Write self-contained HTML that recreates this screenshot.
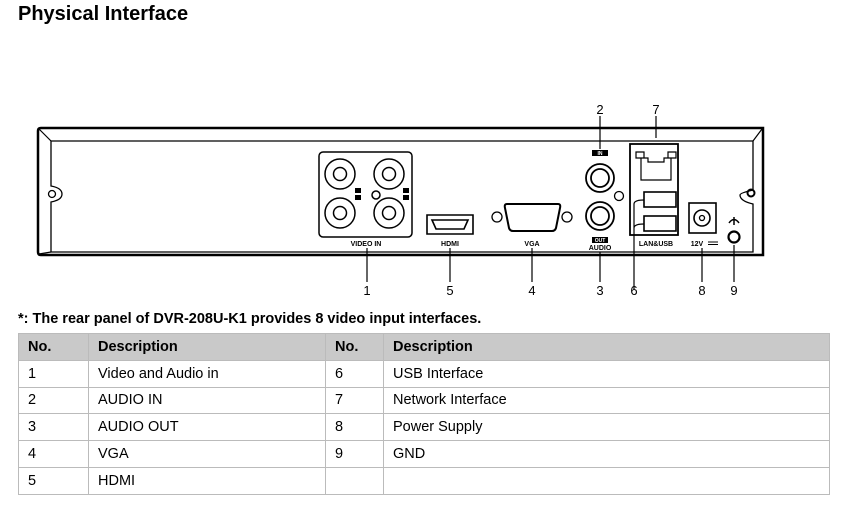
<!DOCTYPE html>
<html><head><meta charset="utf-8"><style>
body{margin:0;width:859px;height:505px;background:#fff;font-family:"Liberation Sans",sans-serif;position:relative;overflow:hidden}
.t{position:absolute;left:18px;top:3px;font-size:20px;font-weight:bold;color:#000}
.n{position:absolute;left:18px;top:311px;font-size:14.5px;font-weight:bold;color:#000}
table{position:absolute;left:18px;top:333px;border-collapse:collapse;font-size:14.5px;color:#000}
td{border:1px solid #bbb;height:26.8px;padding:0 0 0 9px;box-sizing:border-box}
tr.h td{background:#c9c9c9;font-weight:bold}
</style></head><body>
<div class="t">Physical Interface</div>
<svg width="859" height="310" style="position:absolute;left:0;top:0" font-family="Liberation Sans,sans-serif">
<g fill="none" stroke="#000">
<path d="M41 128 H763 V255 H41 Q38 255 38 252 V131 Q38 128 41 128Z" stroke-width="2.5"/>
<path d="M51 141 H753 V190 Q740 193 740 195 Q740 201 753 204 V252 H51 V202 Q62 200 62 194 Q62 188 51 186 Z" stroke-width="1.3"/>
<path d="M39 129 L51 141 M762 129 L753 141 M39 254 L51 252" stroke-width="1.2"/>
<circle cx="52" cy="194" r="3.5" stroke-width="1.3"/>
<circle cx="751" cy="193" r="3.5" stroke-width="2"/>
<rect x="319" y="152" width="93" height="85" rx="4" stroke-width="1.5"/>
<g stroke-width="1.5"><circle cx="340" cy="174" r="15"/><circle cx="340" cy="174" r="6.5"/><circle cx="389" cy="174" r="15"/><circle cx="389" cy="174" r="6.5"/><circle cx="340" cy="213" r="15"/><circle cx="340" cy="213" r="6.5"/><circle cx="389" cy="213" r="15"/><circle cx="389" cy="213" r="6.5"/><circle cx="376" cy="195" r="4"/></g>
<path d="M427 215 H473 V234 H427 Z M432 220 L436 229 H464 L468 220 Z" stroke-width="1.6"/>
<path d="M507 204 H558 Q561 204 560 208 L556 228 Q555 231 552 231 H513 Q510 231 509 228 L505 208 Q504 204 507 204Z" stroke-width="2"/>
<circle cx="497" cy="217" r="5" stroke-width="1.3"/><circle cx="567" cy="217" r="5" stroke-width="1.3"/>
<circle cx="600" cy="178" r="14" stroke-width="1.8"/><circle cx="600" cy="178" r="9" stroke-width="1.8"/>
<circle cx="600" cy="216" r="14" stroke-width="1.8"/><circle cx="600" cy="216" r="9" stroke-width="1.8"/>
<circle cx="619" cy="196" r="4.5" stroke-width="1.3"/>
<rect x="630" y="144" width="48" height="91" stroke-width="1.8"/>
<path d="M636 152 H644 V158 H636Z M668 152 H676 V158 H668Z M641 158 H648 V162 H664 V158 H671 V180 H641 Z" stroke-width="1.2"/>
<rect x="644" y="192" width="32" height="15" stroke-width="1.6"/><rect x="644" y="216" width="32" height="15" stroke-width="1.6"/>
<path d="M634 204 Q634 200 644 200 M634 228 Q634 224 644 224 M634 204 V290" stroke-width="1.2"/>
<rect x="689" y="203" width="27" height="30" stroke-width="1.6"/><circle cx="702" cy="218" r="8" stroke-width="1.6"/><circle cx="702" cy="218" r="2.5" stroke-width="1.3"/>
<circle cx="734" cy="237" r="5.5" stroke-width="2.2"/>
<path d="M729 223 Q734 216 739 223 M734 217 V225" stroke-width="1.5"/>
<g stroke-width="1.2"><path d="M367 248 V282 M450 248 V282 M532 248 V282 M600 252 V282 M702 248 V282 M734 245 V282 M600 116 V149 M656 116 V138"/></g>
</g>
<g fill="#000">
<rect x="592" y="150" width="16" height="6"/><rect x="592" y="237" width="16" height="6"/>
<rect x="355" y="188" width="6" height="5"/><rect x="355" y="195" width="6" height="5"/><rect x="403" y="188" width="6" height="5"/><rect x="403" y="195" width="6" height="5"/>
<g font-size="7" font-weight="bold" text-anchor="middle">
<text x="366" y="246">VIDEO IN</text><text x="450" y="246">HDMI</text><text x="532" y="246">VGA</text><text x="600" y="250">AUDIO</text><text x="656" y="246">LAN&amp;USB</text><text x="697" y="246">12V</text>
</g>
<g fill="#fff" font-size="5" font-weight="bold" text-anchor="middle"><text x="600" y="155">IN</text><text x="600" y="242">OUT</text></g>
<path d="M708 242 H718 M708 244.5 H718" stroke="#000" stroke-width="1"/>
<g font-size="13" text-anchor="middle">
<text x="367" y="295">1</text><text x="450" y="295">5</text><text x="532" y="295">4</text><text x="600" y="295">3</text><text x="634" y="295">6</text><text x="702" y="295">8</text><text x="734" y="295">9</text><text x="600" y="114">2</text><text x="656" y="114">7</text>
</g></g>
</svg>
<div class="n">*: The rear panel of DVR-208U-K1 provides 8 video input interfaces.</div>
<table>
<tr class="h"><td style="width:70px">No.</td><td style="width:237px">Description</td><td style="width:58px">No.</td><td style="width:446px">Description</td></tr>
<tr><td>1</td><td>Video and Audio in</td><td>6</td><td>USB Interface</td></tr>
<tr><td>2</td><td>AUDIO IN</td><td>7</td><td>Network Interface</td></tr>
<tr><td>3</td><td>AUDIO OUT</td><td>8</td><td>Power Supply</td></tr>
<tr><td>4</td><td>VGA</td><td>9</td><td>GND</td></tr>
<tr><td>5</td><td>HDMI</td><td></td><td></td></tr>
</table>
</body></html>
